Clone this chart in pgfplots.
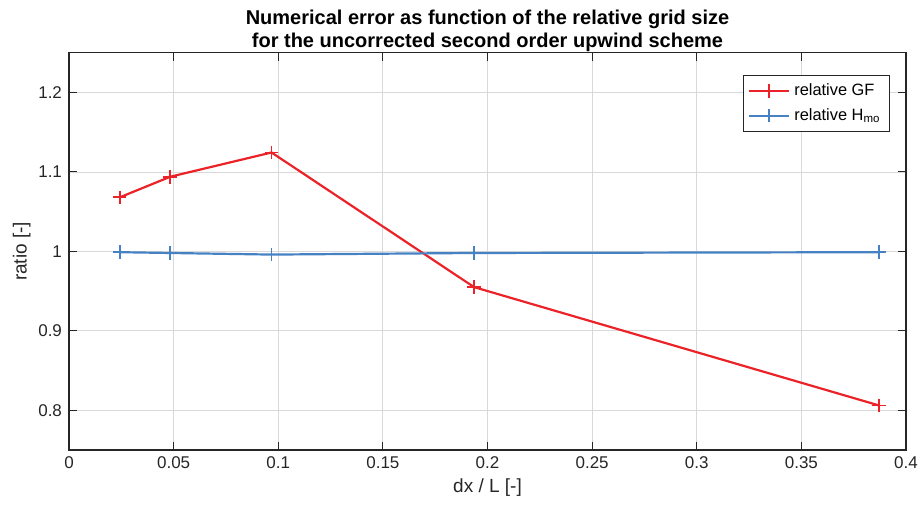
\documentclass[border=0pt]{standalone}
\usepackage{pgfplots}
\pgfplotsset{compat=1.18}
\usepackage{fontspec}
\setmainfont{Liberation Sans}
\definecolor{mred}{RGB}{235,35,40}
\definecolor{mblue}{RGB}{70,130,195}
\definecolor{axgray}{RGB}{38,38,38}
\begin{document}
\begin{tikzpicture}
\begin{axis}[
  scale only axis,
  width=418.5pt, height=198.6pt,
  xmin=0, xmax=0.4, ymin=0.75, ymax=1.25,
  xtick={0,0.05,...,0.4},
  ytick={0.8,0.9,1,1.1,1.2},
  xticklabels={0,0.05,0.1,0.15,0.2,0.25,0.3,0.35,0.4},
  yticklabels={0.8,0.9,1,1.1,1.2},
  tick align=inside,
  major tick length=4pt,
  tick style={axgray, line width=0.5pt},
  axis line style={axgray, line width=0.6pt},
  grid=major,
  major grid style={gray!30, line width=0.4pt},
  ticklabel style={font=\fontsize{8.5}{10}\selectfont, text=axgray},
  /pgf/number format/assume math mode=true,
  xlabel={dx / L [-]},
  ylabel={ratio [-]},
  label style={font=\fontsize{9.5}{11}\selectfont, text=axgray},
  xlabel style={yshift=2pt},
  ylabel style={yshift=-3pt},
  title={Numerical error as function of the relative grid size\\for the uncorrected second order upwind scheme},
  title style={font=\bfseries\fontsize{10}{11.5}\selectfont, align=center, yshift=-9pt},
  legend style={at={(1,1)}, anchor=north east, xshift=-8pt, yshift=-11pt,
    font=\fontsize{8.2}{10}\selectfont, draw=axgray, line width=0.5pt,
    inner xsep=2.5pt, inner ysep=2pt, row sep=1pt},
  legend image code/.code={\draw[mark repeat=2, mark phase=2] plot coordinates {(0cm,0cm) (0.35cm,0cm) (0.7cm,0cm)};},
  legend cell align=left,
]
\addplot[mred, line width=1.1pt, mark=+, mark size=3.4pt, mark options={line width=0.9pt}]
  coordinates {(0.0242,1.068) (0.0484,1.094) (0.0968,1.1245) (0.1936,0.955) (0.3872,0.806)};
\addlegendentry{relative GF}
\addplot[mblue, line width=1.1pt, mark=+, mark size=3.4pt, mark options={line width=0.9pt}]
  coordinates {(0.0242,0.999) (0.0484,0.998) (0.0968,0.996) (0.1936,0.998) (0.3872,0.999)};
\addlegendentry{relative H$_{\mathrm{mo}}$}
\end{axis}
\pgfresetboundingbox
\path (current axis.south west) ++(-34.5pt,-30.5pt) coordinate (bbA);
\path (current axis.north east) ++(7.5pt,26.4pt) coordinate (bbB);
\useasboundingbox (bbA) rectangle (bbB);
\end{tikzpicture}
\end{document}
